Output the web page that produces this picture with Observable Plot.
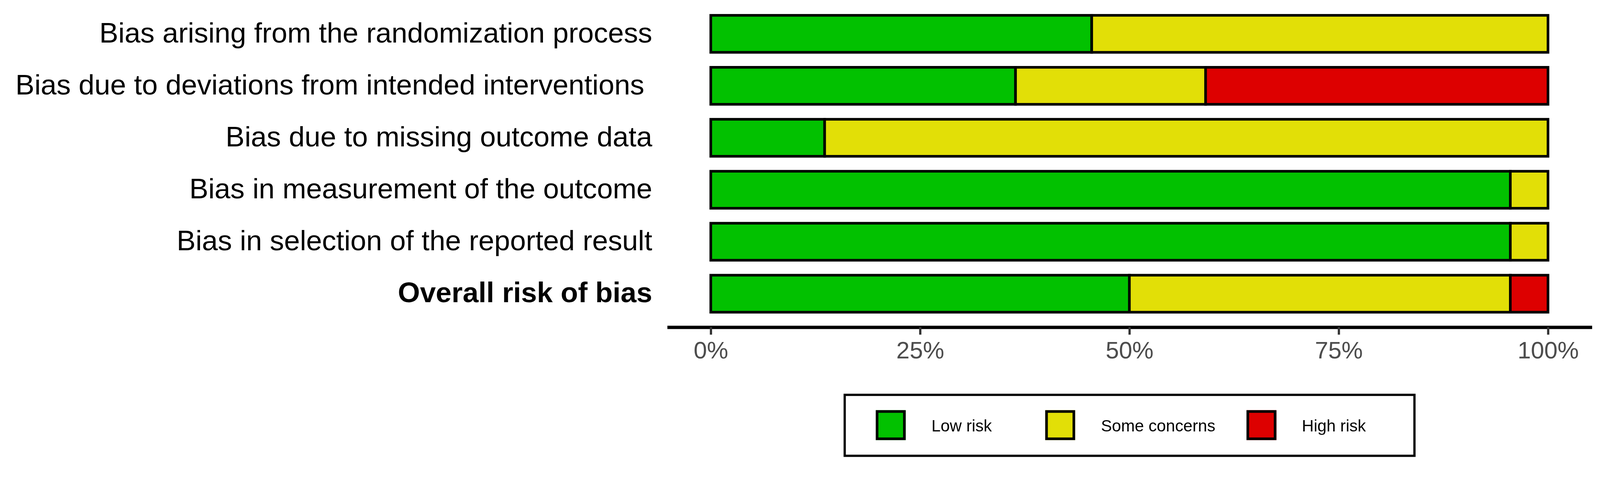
<!DOCTYPE html>
<html>
<head>
<meta charset="utf-8">
<script src="https://cdn.jsdelivr.net/npm/d3@7"></script>
<script src="https://cdn.jsdelivr.net/npm/@observablehq/plot@0.6"></script>
<style>
  html, body { margin: 0; padding: 0; background: #fff; overflow: hidden; font-family: "Liberation Sans", Arial, sans-serif; }
  #wrap { position: relative; width: 4277px; height: 1255px; overflow: hidden; transform-origin: 0 0; }
  #legend { position: absolute; left: 2255px; top: 1053px; width: 1529px; height: 169px;
            border: 6px solid #000; box-sizing: border-box; background: #fff; }
  .key { position: absolute; top: 38px; width: 80px; height: 80px; border: 7px solid #000; box-sizing: border-box; }
  .lab { position: absolute; top: 58px; font-size: 44px; line-height: 44px; color: #000; white-space: nowrap; }
</style>
</head>
<body>
<div id="wrap"><div id="chart"></div><div id="legend"></div></div>
<script>
// ---- data ----
const domains = [
  "Bias arising from the randomization process",
  "Bias due to deviations from intended interventions\u00A0",
  "Bias due to missing outcome data",
  "Bias in measurement of the outcome",
  "Bias in selection of the reported result",
  "Overall risk of bias"
];
const judgements = ["Low risk", "Some concerns", "High risk"];
const lowRisk      = [45.5, 36.4, 13.6, 95.5, 95.5, 50.0];
const someConcerns = [54.5, 22.7, 86.4,  4.5,  4.5, 45.5];
const highRisk     = [ 0.0, 40.9,  0.0,  0.0,  0.0,  4.5];
const xTicks = [0, 25, 50, 75, 100];
const colours = ["#02C100", "#E2DF07", "#DD0000"];

// ---- build long table ----
const series = [lowRisk, someConcerns, highRisk];
const rows = [];
domains.forEach((d, i) => {
  judgements.forEach((j, k) => {
    if (series[k][i] > 0) rows.push({domain: d, judgement: j, value: series[k][i]});
  });
});
const overall = domains[domains.length - 1];
const normalDomains = domains.filter(d => d !== overall);

const chart = Plot.plot({
  width: 4277,
  height: 1000,
  marginLeft: 1788,
  marginRight: 26,
  marginTop: 0,
  marginBottom: 125,
  style: {fontFamily: "'Liberation Sans', Arial, sans-serif", background: "#fff", overflow: "visible"},
  x: {domain: [0, 100], range: [1900, 4138], axis: null},
  y: {domain: domains, range: [0, 877], paddingInner: 0.2857, paddingOuter: 0.275, axis: null},
  color: {domain: judgements, range: colours},
  marks: [
    Plot.barX(rows, Plot.stackX({x: "value", y: "domain", fill: "judgement", stroke: "#000", strokeWidth: 7})),
    Plot.frame({anchor: "bottom", stroke: "#000", strokeWidth: 9}),
    Plot.axisX({ticks: xTicks, tickFormat: d => d + "%", tickSize: 20, tickPadding: 18,
                fontSize: 64, fill: "#4d4d4d", stroke: "#333", strokeWidth: 6, label: null}),
    Plot.text(normalDomains, {y: d => d, frameAnchor: "left", textAnchor: "end", dx: -45, dy: -2,
                              fontSize: 76, fill: "#000"}),
    Plot.text([overall], {y: d => d, frameAnchor: "left", textAnchor: "end", dx: -45, dy: -2,
                          fontSize: 76, fontWeight: "bold", fill: "#000"})
  ]
});
document.getElementById("chart").appendChild(chart);

// ---- legend ----
const keyLeft = [80, 533, 1071];
const labLeft = [229, 682, 1219];
const legend = d3.select("#legend");
judgements.forEach((j, k) => {
  legend.append("div").attr("class", "key").style("left", keyLeft[k] + "px").style("background", colours[k]);
  legend.append("div").attr("class", "lab").style("left", labLeft[k] + "px").text(j);
});

// fit the 4277x1255 design into the actual viewport
function fit() {
  const s = Math.min(window.innerWidth / 4277, window.innerHeight / 1255);
  document.getElementById("wrap").style.transform = "scale(" + s + ")";
}
fit();
window.addEventListener("resize", fit);
</script>
</body>
</html>
